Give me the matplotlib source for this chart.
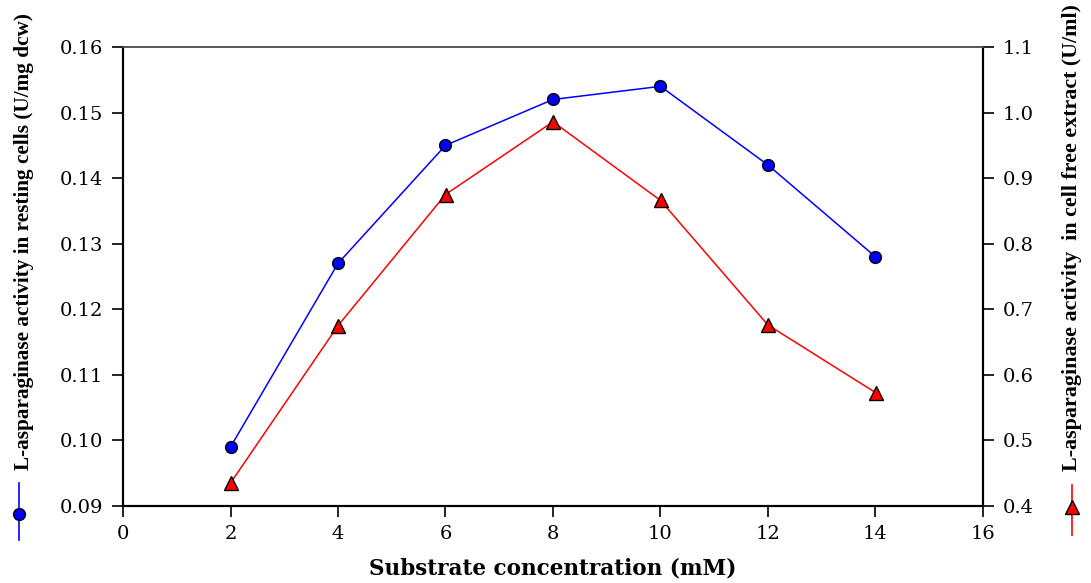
import matplotlib
matplotlib.use("Agg")
import matplotlib.pyplot as plt
from matplotlib.lines import Line2D
from matplotlib.ticker import FormatStrFormatter

# substrate concentration (mM)
conc = [2, 4, 6, 8, 10, 12, 14]
# activity in resting cells (U/mg dcw), left axis
resting = [0.099, 0.127, 0.145, 0.152, 0.154, 0.142, 0.128]
# activity in cell free extract (U/ml), right axis
cell_free = [0.435, 0.675, 0.875, 0.986, 0.866, 0.676, 0.573]

left_ticks = [0.09, 0.10, 0.11, 0.12, 0.13, 0.14, 0.15, 0.16]
right_ticks = [0.4, 0.5, 0.6, 0.7, 0.8, 0.9, 1.0, 1.1]
x_ticks = [0, 2, 4, 6, 8, 10, 12, 14, 16]

W, H = 1091, 583
fig = plt.figure(figsize=(W / 100, H / 100), dpi=100)
ax = fig.add_axes([123 / W, 1 - 506 / H, (983 - 123) / W, (506 - 47) / H])
ax2 = ax.twinx()

tick_font = {"family": "DejaVu Serif", "size": 14}
label_font = ["Liberation Serif", "DejaVu Serif"]

ax.plot(conc, resting, color="blue", lw=1.1, marker="o", ms=8.5,
        mfc="blue", mec="black", mew=1.0, zorder=3)
ax2.plot(conc, cell_free, color="red", lw=1.1, marker="^", ms=9.5,
         mfc="red", mec="black", mew=1.0, zorder=3)

ax.set_xlim(0, 16)
ax.set_ylim(0.09, 0.16)
ax2.set_ylim(0.4, 1.1)
ax.set_xticks(x_ticks)
ax.set_yticks(left_ticks)
ax2.set_yticks(right_ticks)
ax.yaxis.set_major_formatter(FormatStrFormatter("%.2f"))
ax2.yaxis.set_major_formatter(FormatStrFormatter("%.1f"))

for a in (ax, ax2):
    for lab in a.get_xticklabels() + a.get_yticklabels():
        lab.set_fontfamily(tick_font["family"])
        lab.set_fontsize(tick_font["size"])
    a.tick_params(direction="out", length=8, width=1.2, pad=6, color="black")
    for side in ("left", "bottom", "right"):
        a.spines[side].set_linewidth(1.5)
        a.spines[side].set_color("black")
    a.spines["top"].set_linewidth(1.2)
    a.spines["top"].set_color("#555555")

ax.set_xlabel("Substrate concentration (mM)", family="DejaVu Serif",
              fontweight="bold", fontsize=15.5, labelpad=10)

# rotated axis titles with their series key underneath
fig.text(24 / W, 1 - 242 / H, "L-asparaginase activity in resting cells (U/mg dcw)",
         rotation=90, ha="center", va="center", family=label_font,
         fontweight="bold", fontsize=15.3)
fig.text(1072 / W, 1 - 238 / H, "L-asparaginase activity  in cell free extract (U/ml)",
         rotation=90, ha="center", va="center", family=label_font,
         fontweight="bold", fontsize=15.8)

fig.add_artist(Line2D([19 / W, 19 / W], [1 - 483 / H, 1 - 540 / H],
                      transform=fig.transFigure, color="blue", lw=1.2))
fig.add_artist(Line2D([19 / W], [1 - 514 / H], transform=fig.transFigure,
                      marker="o", ms=8.5, mfc="blue", mec="black", mew=1.0, ls="none"))
fig.add_artist(Line2D([1072 / W, 1072 / W], [1 - 485 / H, 1 - 535 / H],
                      transform=fig.transFigure, color="red", lw=1.2))
fig.add_artist(Line2D([1072 / W], [1 - 507 / H], transform=fig.transFigure,
                      marker="^", ms=9.5, mfc="red", mec="black", mew=1.0, ls="none"))

fig.savefig("out.png", dpi=100)
